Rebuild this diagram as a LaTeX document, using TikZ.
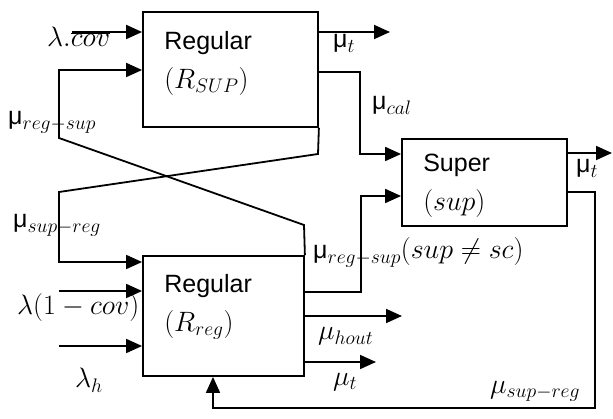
\RequirePackage{fix-cm}
\documentclass[tikz,border=0pt]{standalone}
\usepackage{fontspec}
\setsansfont{Liberation Sans}
\usepackage{tikz}
\usetikzlibrary{arrows.meta,positioning,calc}

\newcommand{\mfont}{\fontsize{28}{39}\selectfont}
\newcommand{\umu}{{\sffamily\fontsize{25}{30}\selectfont μ}}

\begin{document}
\begin{tikzpicture}[x=1pt,y=-1pt,
  blk/.style={draw,line width=1.8pt,inner sep=0pt},
  arr/.style={line width=1.8pt,-{Triangle[length=16pt,width=14pt]}},
  lab/.style={font=\mfont,inner sep=0pt,anchor=base west},
  txt/.style={font=\sffamily\fontsize{25}{39}\selectfont,align=left,inner sep=0pt}]
  \useasboundingbox (0,0) rectangle (613,419);
  % blocks
  \node[blk,minimum width=175pt,minimum height=115pt] (rsup) at (230.5,69.5) {};
  \node[blk,minimum width=161pt,minimum height=120pt] (rreg) at (223.5,316) {};
  \node[blk,minimum width=165pt,minimum height=87pt] (sup) at (484.5,182.5) {};
  \node[txt,below right=20pt and 22pt of rsup.north west] (rsuptxt) {Regular\\{\mfont$(R_{SUP})$}};
  \node[txt,below right=19pt and 22pt of rreg.north west] (rregtxt) {Regular\\{\mfont$(R_{reg})$}};
  \node[txt,below right=16pt and 22pt of sup.north west] (suptxt) {Super\\{\mfont$(sup)$}};
  % wire bends
  \coordinate (cov) at (72,32);
  \coordinate (rs1) at (304,225);
  \coordinate (rs2) at (59,138);
  \coordinate (rs3) at (59,70);
  \coordinate (sr1) at (318,154);
  \coordinate (sr2) at (59,192);
  \coordinate (sr3) at (59,262);
  \coordinate (lin) at (59,291);
  \coordinate (hin) at (59,346);
  \coordinate (t1) at (390,32);
  \coordinate (cal) at (360,72);
  \coordinate (cal2) at (360,154);
  \coordinate (rg1) at (361,292);
  \coordinate (rg2) at (361,196);
  \coordinate (hout) at (402,316);
  \coordinate (t2) at (376,362);
  \coordinate (t3) at (612,153);
  \coordinate (fb1) at (595,192);
  \coordinate (fb2) at (595,408);
  \coordinate (fb3) at (213,408);
  % inputs
  \draw[arr] (cov) -- (cov -| rsup.west);
  \draw[arr] (rreg.north east) -- (rs1) -- (rs2) -- (rs3) -- (rs3 -| rsup.west);
  \draw[arr] (rsup.south east) -- (sr1) -- (sr2) -- (sr3) -- (sr3 -| rreg.west);
  \draw[arr] (lin) -- (lin -| rreg.west);
  \draw[arr] (hin) -- (hin -| rreg.west);
  % outputs
  \draw[arr] (t1 -| rsup.east) -- (t1);
  \draw[arr] (cal -| rsup.east) -- (cal) -- (cal2) -- (cal2 -| sup.west);
  \draw[arr] (rg1 -| rreg.east) -- (rg1) -- (rg2) -- (rg2 -| sup.west);
  \draw[arr] (hout -| rreg.east) -- (hout);
  \draw[arr] (t2 -| rreg.east) -- (t2);
  \draw[arr] (t3 -| sup.east) -- (t3);
  \draw[arr] (fb1 -| sup.east) -- (fb1) -- (fb2) -- (fb3) -- (fb3 |- rreg.south);
  % labels
  \node[lab] (lcov) at (47,47) {$\lambda.\overline{cov}$};
  \node[lab] (lrs) at (8,125) {\umu$_{reg-sup}$};
  \node[lab] (lsr) at (13,228) {\umu$_{sup-reg}$};
  \node[lab] (llin) at (17,315) {$\lambda(1-cov)$};
  \node[lab] (lh) at (75,388) {$\lambda_h$};
  \node[lab] (lt1) at (333,48) {\umu$_t$};
  \node[lab] (lcal) at (372,110) {\umu$_{cal}$};
  \node[lab] (lrg) at (313,259) {\umu$_{reg-sup}(sup\neq sc)$};
  \node[lab] (lhout) at (318,340) {$\mu_{hout}$};
  \node[lab] (lt2) at (333,385) {$\mu_t$};
  \node[lab] (lt3) at (576,173) {\umu$_t$};
  \node[lab] (lfb) at (490,393) {$\mu_{sup-reg}$};
\end{tikzpicture}
\end{document}
